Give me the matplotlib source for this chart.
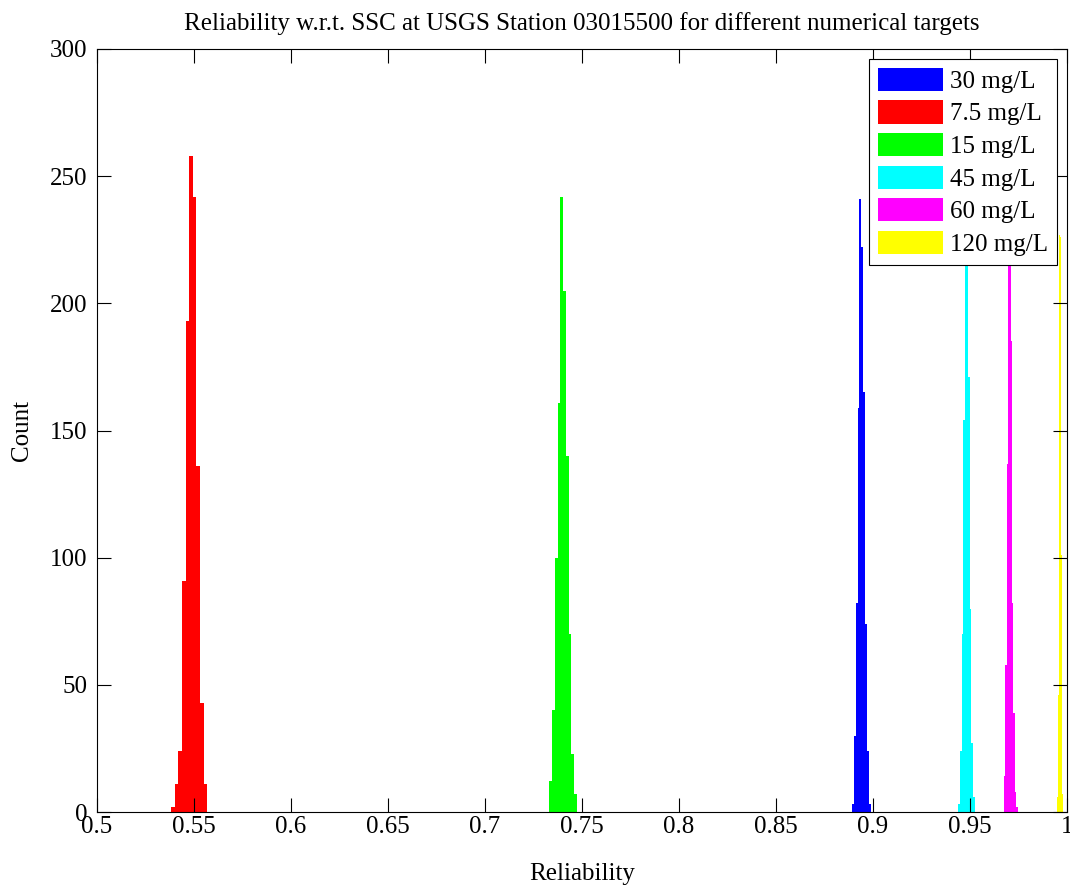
import matplotlib
matplotlib.use('Agg')
import matplotlib.pyplot as plt
import matplotlib.ticker as mticker
import numpy as np

plt.rcParams['font.family'] = ['Liberation Serif', 'DejaVu Serif']

# targets in legend order
labels = ['30 mg/L', '7.5 mg/L', '15 mg/L', '45 mg/L', '60 mg/L', '120 mg/L']
colors = ['#0000ff', '#ff0000', '#00ff00', '#00ffff', '#ff00ff', '#ffff00']

# histogram range (min, max reliability) for each target, 10 bins each
ranges = [
    (0.8891, 0.8989),
    (0.5381, 0.5569),
    (0.7331, 0.7473),
    (0.9440, 0.9524),
    (0.9675, 0.9745),
    (0.9950, 0.9978),
]

# bin counts
counts = [
    [3, 30, 82, 159, 241, 222, 165, 74, 24, 3],
    [2, 11, 24, 91, 193, 258, 242, 136, 43, 11],
    [12, 40, 100, 161, 242, 205, 140, 70, 23, 7],
    [3, 24, 70, 154, 235, 230, 171, 80, 27, 6],
    [14, 58, 137, 240, 235, 185, 82, 39, 8, 2],
    [6, 22, 46, 96, 227, 226, 225, 101, 44, 7],
]

fig = plt.figure(figsize=(10.7, 8.86), dpi=100)
ax = fig.add_axes([0.0907, 0.0835, 0.9065, 0.8612])

for lab, col, (lo, hi), cnt in zip(labels, colors, ranges, counts):
    edges = np.linspace(lo, hi, len(cnt) + 1)
    ax.bar(edges[:-1], cnt, width=np.diff(edges), align='edge',
           color=col, edgecolor='none', label=lab)

ax.set_xlim(0.5, 1.0)
ax.set_ylim(0, 300)
ax.set_xticks(np.arange(0.5, 1.0001, 0.05))
ax.set_yticks(np.arange(0, 301, 50))
ax.xaxis.set_major_formatter(mticker.FormatStrFormatter('%g'))
ax.tick_params(direction='in', top=True, right=True, length=10, labelsize=18)
ax.tick_params(axis='x', pad=3)
ax.tick_params(axis='y', pad=7)
for s in ax.spines.values():
    s.set_linewidth(0.8)

ax.set_title('Reliability w.r.t. SSC at USGS Station 03015500 for different numerical targets',
             fontsize=18, pad=14)
ax.set_xlabel('Reliability', fontsize=18, labelpad=18)
ax.set_ylabel('Count', fontsize=18, labelpad=12)

leg = ax.legend(loc='upper right', fontsize=18, handlelength=2.6, handleheight=1.05,
                borderaxespad=0.4, fancybox=False, framealpha=1, edgecolor='black',
                labelspacing=0.3, handletextpad=0.3, borderpad=0.35)
leg.get_frame().set_linewidth(0.8)

fig.savefig('out.png', dpi=100)
